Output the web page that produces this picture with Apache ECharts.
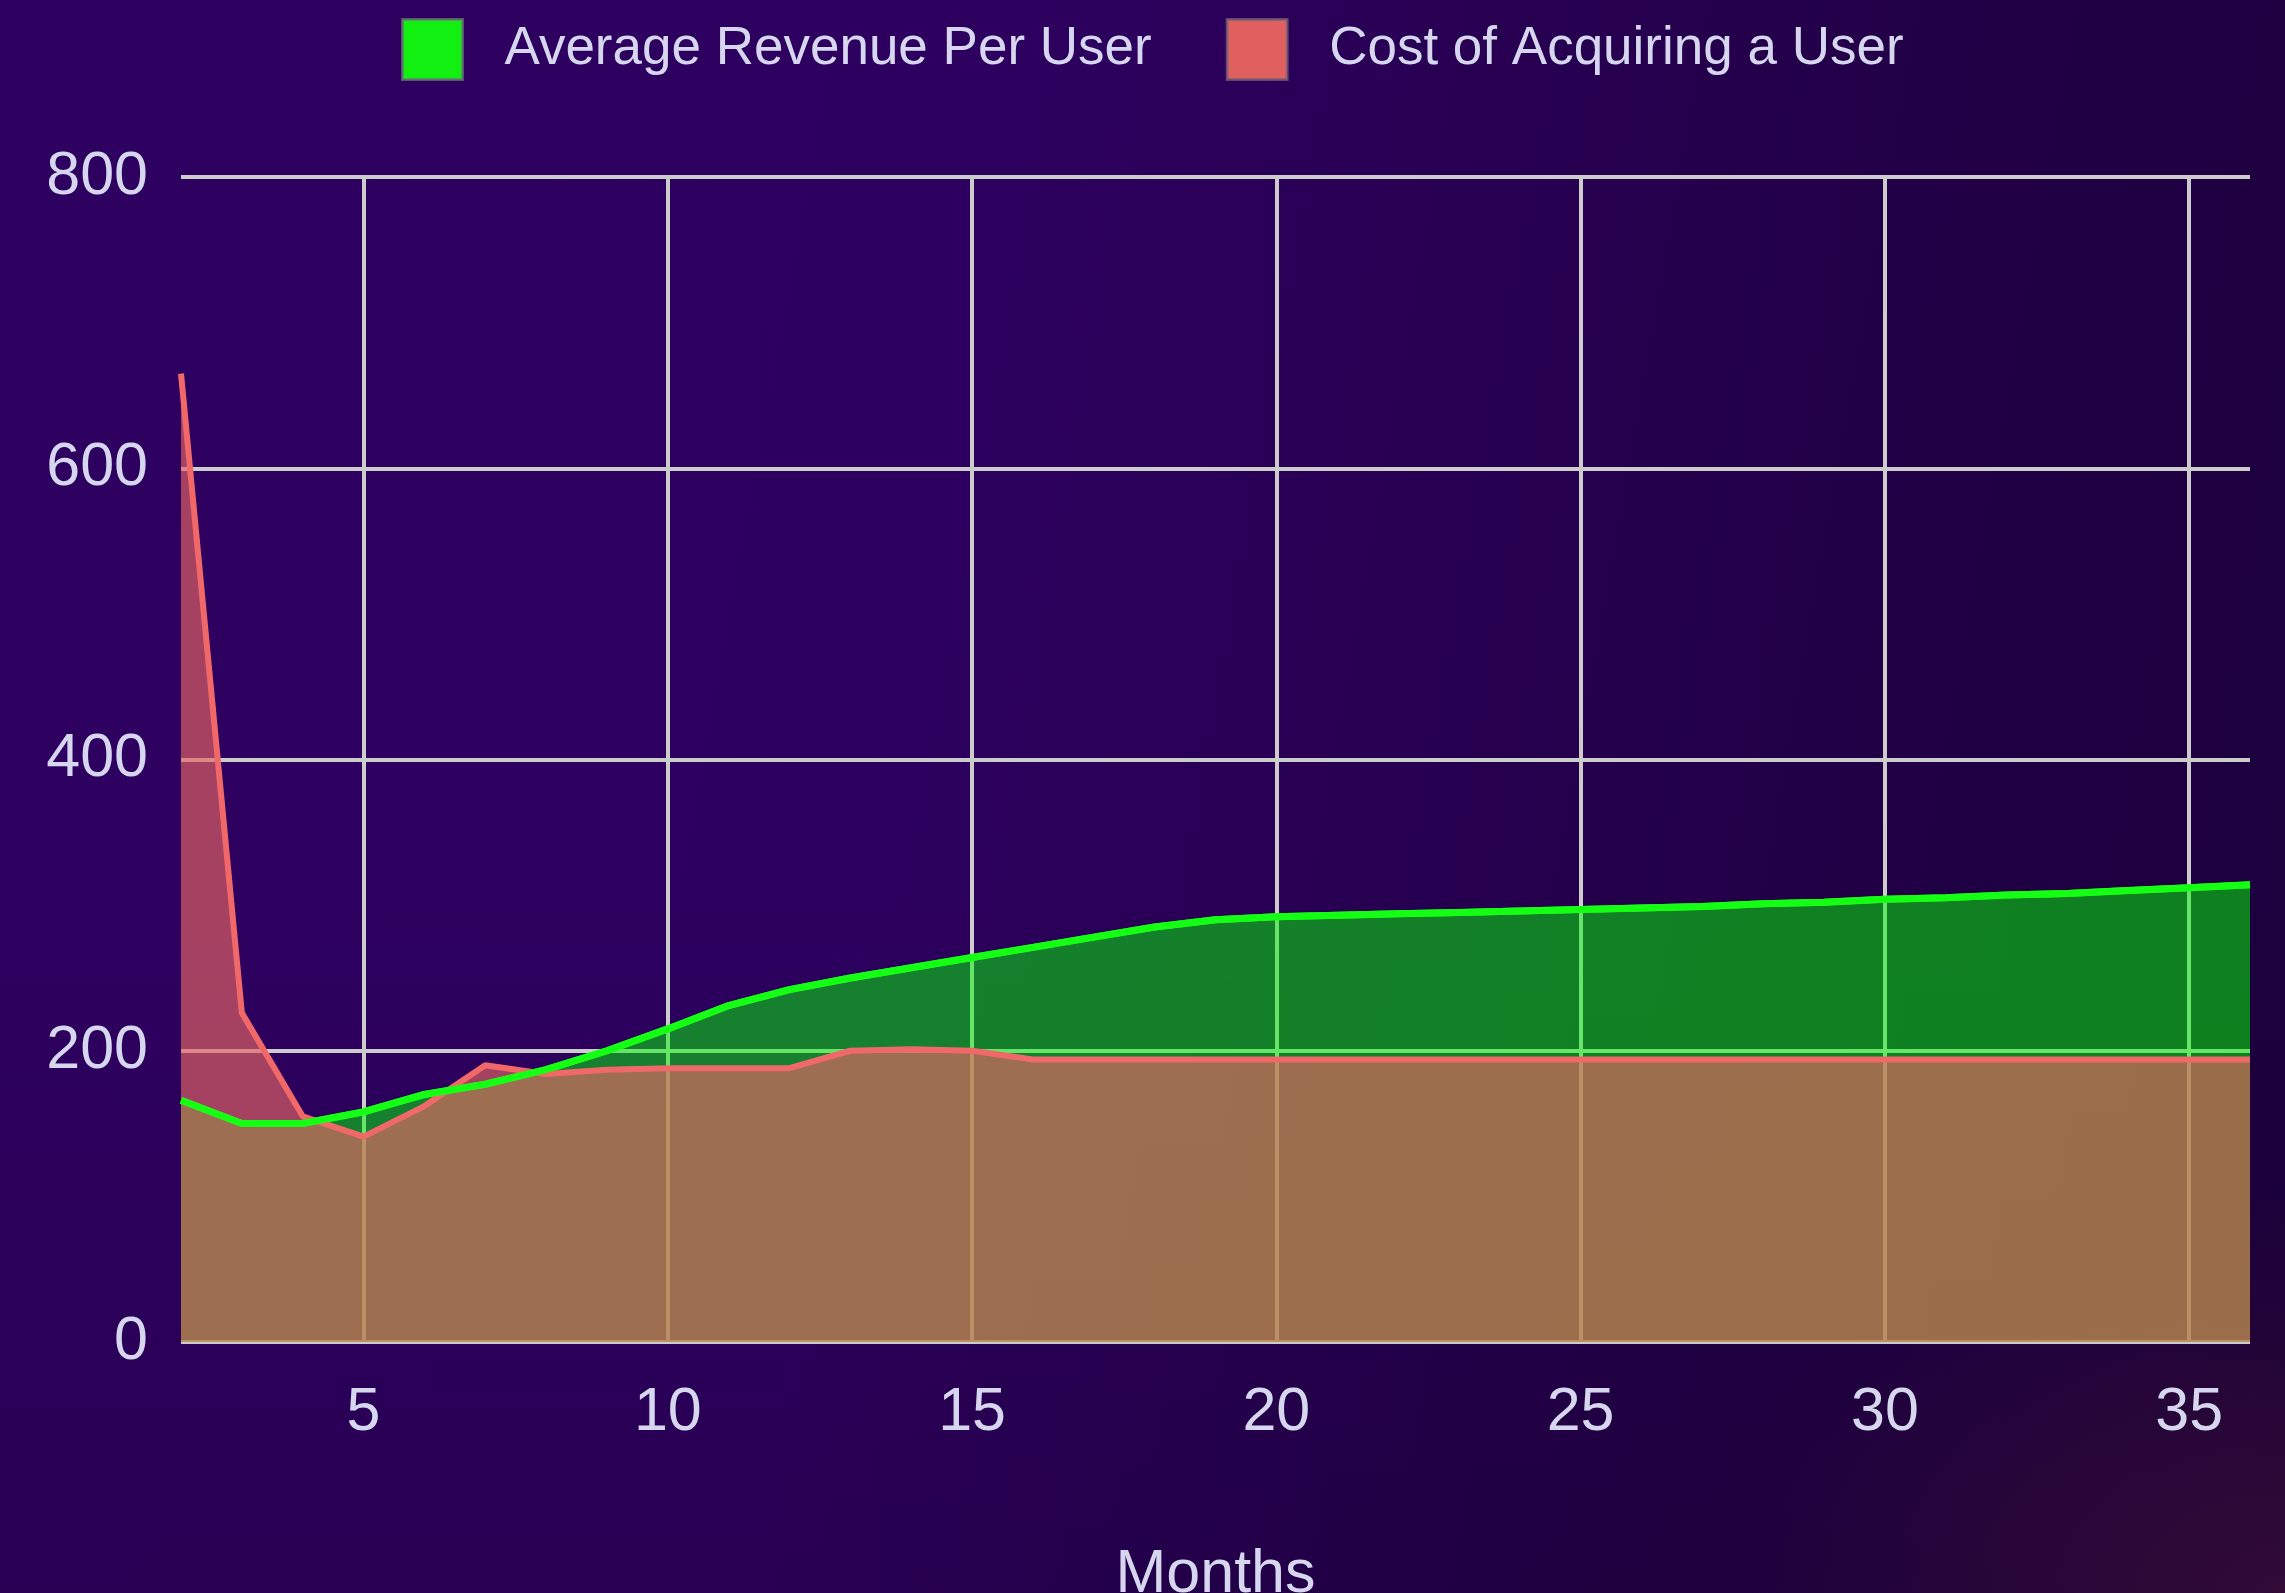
<!DOCTYPE html>
<html>
<head>
<meta charset="utf-8">
<title>ARPU vs CAC</title>
<script src="https://cdn.jsdelivr.net/npm/echarts@6/dist/echarts.min.js"></script>
<style>
  html, body {
    margin: 0;
    padding: 0;
    width: 2285px;
    height: 1593px;
    overflow: hidden;
  }
  body {
    background:
      radial-gradient(ellipse at 100% 100%, rgba(70, 20, 55, 0.55) 0%, rgba(70, 20, 55, 0) 18%),
      linear-gradient(to bottom, rgba(0, 0, 0, 0) 55%, rgba(0, 0, 0, 0.12) 100%),
      linear-gradient(100deg, #2e0060 0%, #2d005f 40%, #230049 72%, #1b003c 100%);
  }
  #chart {
    width: 2285px;
    height: 1593px;
  }
</style>
</head>
<body>
<div id="chart"></div>
<script>
// x axis: months
const months = [2, 3, 4, 5, 6, 7, 8, 9, 10, 11, 12, 13, 14, 15, 16, 17, 18, 19, 20,
  21, 22, 23, 24, 25, 26, 27, 28, 29, 30, 31, 32, 33, 34, 35, 36]

// Average Revenue Per User
const revenue = [166, 150, 150, 158, 170, 177, 187, 200, 215, 231, 242, 250, 257, 264, 271, 278, 285, 290, 292,
  293, 294, 295, 296, 297, 298, 299, 301, 302, 304, 305, 307, 308, 310, 312, 314]

// Cost of Acquiring a User
const cost = [665, 226, 155, 141, 162, 190, 184, 187, 188, 188, 188, 200, 201, 200, 194, 194, 194, 194, 194,
  194, 194, 194, 194, 194, 194, 194, 194, 194, 194, 194, 194, 194, 194, 194, 194]

const yTicks = [0, 200, 400, 600, 800]
const legendNames = ['Average Revenue Per User', 'Cost of Acquiring a User']

const FONT = '"Liberation Sans", Arial, Helvetica, sans-serif'
const textColor = '#d6d6ee'
const gridColor = '#cccccc'

const chart = echarts.init(document.getElementById('chart'))

const revenueData = months.map((m, i) => [m, revenue[i]])
const costData = months.map((m, i) => [m, cost[i]])

const option = {
  animation: false,
  backgroundColor: 'transparent',
  textStyle: { fontFamily: FONT },
  legend: {
    left: 401,
    top: 18,
    padding: 0,
    icon: 'rect',
    itemWidth: 60,
    itemHeight: 60,
    itemGap: 74,
    textStyle: {
      color: textColor,
      fontSize: 53,
      fontFamily: FONT,
      padding: [0, 0, 0, 37]
    },
    data: [
      {
        name: legendNames[0],
        itemStyle: { color: '#12f012', borderColor: 'rgba(110,120,120,0.7)', borderWidth: 3 }
      },
      {
        name: legendNames[1],
        itemStyle: { color: '#e06060', borderColor: 'rgba(120,100,120,0.7)', borderWidth: 3 }
      }
    ]
  },
  grid: {
    left: 181,
    right: 35,
    top: 177,
    bottom: 251,
    containLabel: false,
    // keep the plot box fixed, the axis title sits near the bottom edge
    outerBoundsMode: 'none'
  },
  xAxis: {
    type: 'value',
    min: months[0],
    max: months[months.length - 1],
    name: 'Months',
    nameLocation: 'middle',
    nameGap: 203,
    nameTextStyle: { color: textColor, fontSize: 61, fontFamily: FONT },
    axisLine: { show: false },
    axisTick: { show: false },
    axisLabel: {
      color: textColor,
      fontSize: 61,
      fontFamily: FONT,
      margin: 41,
      formatter: v => (v % 5 === 0 ? String(v) : '')
    },
    splitLine: {
      show: true,
      showMinLine: false,
      showMaxLine: false,
      lineStyle: { color: gridColor, width: 4 }
    }
  },
  yAxis: {
    type: 'value',
    min: yTicks[0],
    max: yTicks[yTicks.length - 1],
    interval: yTicks[1] - yTicks[0],
    axisLine: { show: false },
    axisTick: { show: false },
    axisLabel: { color: textColor, fontSize: 61, fontFamily: FONT, margin: 33 },
    splitLine: { lineStyle: { color: gridColor, width: 4 } }
  },
  series: [
    {
      name: legendNames[0],
      type: 'line',
      data: revenueData,
      showSymbol: false,
      lineStyle: { color: '#14ff14', width: 7 },
      itemStyle: { color: '#14ff14' },
      areaStyle: { color: 'rgba(0,255,0,0.5)', opacity: 1 },
      z: 2
    },
    {
      name: legendNames[1],
      type: 'line',
      data: costData,
      showSymbol: false,
      lineStyle: { color: 'rgb(240,104,104)', width: 6 },
      itemStyle: { color: 'rgb(230,100,100)' },
      areaStyle: { color: 'rgba(230,100,100,0.65)', opacity: 1 },
      z: 3
    },
    {
      // revenue line again so it stays visible above the cost fill
      name: 'revenue-line',
      type: 'line',
      data: revenueData,
      showSymbol: false,
      silent: true,
      lineStyle: { color: '#14ff14', width: 7 },
      itemStyle: { color: '#14ff14' },
      z: 4
    }
  ]
}

chart.setOption(option)
</script>
</body>
</html>
